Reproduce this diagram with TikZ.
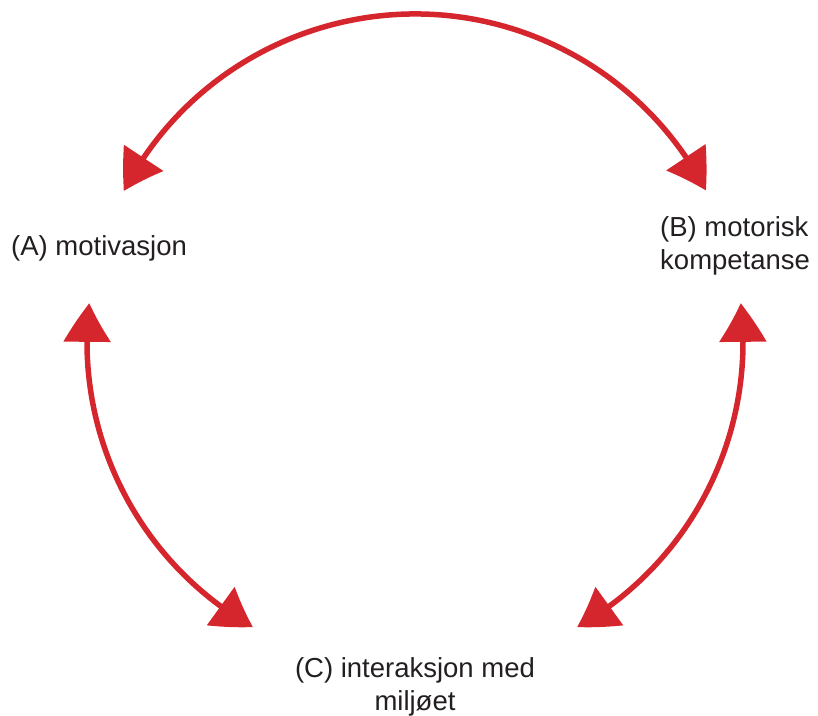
\documentclass[tikz,border=0pt]{standalone}
\usepackage{fontspec}
\setmainfont{Liberation Sans}
\usetikzlibrary{arrows.meta,bending}
\definecolor{arrowred}{RGB}{214,38,45}
\definecolor{textgray}{RGB}{35,31,32}
\begin{document}
\begin{tikzpicture}[x=1pt,y=1pt,
  cyc/.style={draw=arrowred,line width=5.5pt,{Triangle[length=39pt,width=46pt,bend]}-{Triangle[length=39pt,width=46pt,bend]}},
  lbl/.style={inner sep=0pt,font=\fontsize{27.5}{33}\selectfont,text=textgray}]
\useasboundingbox (0,0) rectangle (818,715);
\coordinate (O) at (415,373);
\node[lbl,anchor=base west] (A) at (11,459) {(A) motivasjon};
\node[lbl,anchor=north west,align=left] (B) at (660,499) {(B) motorisk\\kompetanse};
\node[lbl,anchor=north,align=center] (C) at (415,58) {(C) interaksjon med\\miljøet};
\draw[cyc] (O) ++(152.6:328) arc[start angle=152.6,end angle=27.5,radius=328];
\draw[cyc] (O) ++(173.2:328) arc[start angle=173.2,end angle=240.4,radius=328];
\draw[cyc] (O) ++(6.8:328) arc[start angle=6.8,end angle=-60.4,radius=328];
\end{tikzpicture}
\end{document}
